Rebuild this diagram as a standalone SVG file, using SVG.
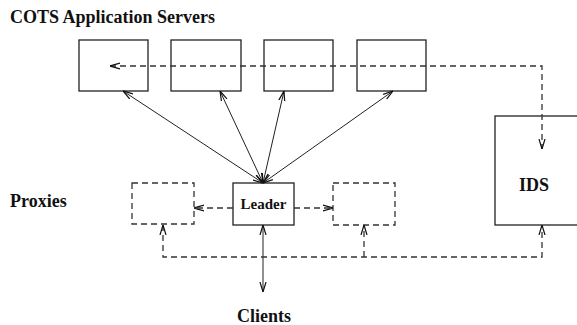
<svg xmlns="http://www.w3.org/2000/svg" width="577" height="325" viewBox="0 0 577 325">
  <style>
    .box { fill: #fff; stroke: #222; stroke-width: 1.3; }
    .proxy { fill: #fff; stroke: #333; stroke-width: 1.3; stroke-dasharray: 6 4; }
    .link { fill: none; stroke: #222; stroke-width: 1; }
    .dash { fill: none; stroke: #333; stroke-width: 1.3; stroke-dasharray: 6 4; }
    .lbl { font-family: "Liberation Serif", "Times New Roman", serif; font-weight: bold; fill: #111; }
  </style>
  <defs>
    <marker id="arrow" viewBox="0 0 10 8" refX="10" refY="4" markerWidth="10" markerHeight="8" markerUnits="userSpaceOnUse" orient="auto-start-reverse">
      <path d="M0,1 L10,4 L0,7" fill="none" stroke="#111" stroke-width="1.2"/>
    </marker>
  </defs>

  <text class="lbl" x="10" y="23" font-size="18">COTS Application Servers</text>
  <text class="lbl" x="10" y="207" font-size="18">Proxies</text>

  <!-- application servers -->
  <g id="server1"><rect class="box" x="79" y="40" width="69" height="51"/></g>
  <g id="server2"><rect class="box" x="171" y="40" width="70" height="51"/></g>
  <g id="server3"><rect class="box" x="264" y="40" width="69" height="51"/></g>
  <g id="server4"><rect class="box" x="357" y="40" width="69" height="51"/></g>

  <!-- intrusion detection system -->
  <g id="ids">
    <rect class="box" x="495" y="116" width="100" height="109"/>
    <text class="lbl" x="534" y="191" font-size="18" text-anchor="middle">IDS</text>
  </g>

  <!-- leader and proxies -->
  <g id="leader">
    <rect class="box" x="233" y="183" width="61" height="42"/>
    <text class="lbl" x="263.5" y="209" font-size="15" text-anchor="middle">Leader</text>
  </g>
  <g id="proxy-left"><rect class="proxy" x="132" y="183" width="62" height="41"/></g>
  <g id="proxy-right"><rect class="proxy" x="333" y="183" width="62" height="42"/></g>

  <g id="clients">
    <text class="lbl" x="264" y="322" font-size="18" text-anchor="middle">Clients</text>
  </g>

  <g id="connectors">
    <!-- leader to each server -->
    <line class="link" x1="263" y1="183" x2="123" y2="91" marker-start="url(#arrow)" marker-end="url(#arrow)"/>
    <line class="link" x1="263" y1="183" x2="220" y2="91" marker-start="url(#arrow)" marker-end="url(#arrow)"/>
    <line class="link" x1="263" y1="183" x2="284" y2="91" marker-start="url(#arrow)" marker-end="url(#arrow)"/>
    <line class="link" x1="263" y1="183" x2="393" y2="91" marker-start="url(#arrow)" marker-end="url(#arrow)"/>
    <!-- leader to clients -->
    <line class="link" x1="263" y1="225" x2="263" y2="292" marker-start="url(#arrow)" marker-end="url(#arrow)"/>
    <!-- leader to proxies -->
    <line class="dash" x1="233" y1="208" x2="194" y2="208" marker-end="url(#arrow)"/>
    <line class="dash" x1="294" y1="208" x2="333" y2="208" marker-end="url(#arrow)"/>
    <!-- IDS to servers -->
    <polyline class="dash" points="110,66 542,66 542,149" marker-start="url(#arrow)" marker-end="url(#arrow)"/>
    <!-- proxies and IDS feed loop -->
    <polyline class="dash" points="163,225 163,257 542,257 542,225" marker-start="url(#arrow)" marker-end="url(#arrow)"/>
    <line class="dash" x1="364" y1="257" x2="364" y2="225" marker-end="url(#arrow)"/>
  </g>
</svg>
